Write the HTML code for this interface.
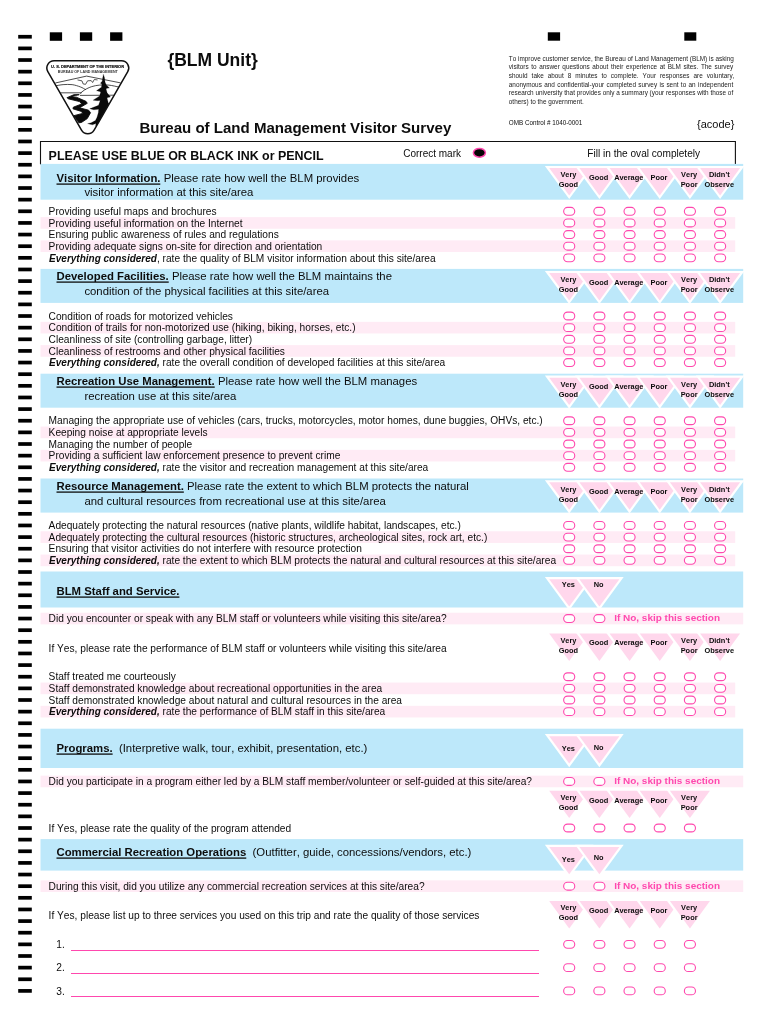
<!DOCTYPE html>
<html lang="en"><head><meta charset="utf-8"><title>Bureau of Land Management Visitor Survey</title>
<style>
html,body{margin:0;padding:0;background:#fff;overflow:hidden}
#page{position:relative;width:770px;height:1024px;overflow:hidden;background:#fff;font-family:"Liberation Sans",Arial,Helvetica,sans-serif}
#page svg.bg{position:absolute;left:0;top:0;will-change:transform}
</style></head><body>
<div id="page">
<svg class="bg" width="770" height="1024" viewBox="0 0 770 1024">
<rect x="18.20" y="34.90" width="13.60" height="3.70" fill="#000"/>
<rect x="18.20" y="46.54" width="13.60" height="3.70" fill="#000"/>
<rect x="18.20" y="58.17" width="13.60" height="3.70" fill="#000"/>
<rect x="18.20" y="69.81" width="13.60" height="3.70" fill="#000"/>
<rect x="18.20" y="81.44" width="13.60" height="3.70" fill="#000"/>
<rect x="18.20" y="93.08" width="13.60" height="3.70" fill="#000"/>
<rect x="18.20" y="104.72" width="13.60" height="3.70" fill="#000"/>
<rect x="18.20" y="116.35" width="13.60" height="3.70" fill="#000"/>
<rect x="18.20" y="127.99" width="13.60" height="3.70" fill="#000"/>
<rect x="18.20" y="139.62" width="13.60" height="3.70" fill="#000"/>
<rect x="18.20" y="151.26" width="13.60" height="3.70" fill="#000"/>
<rect x="18.20" y="162.90" width="13.60" height="3.70" fill="#000"/>
<rect x="18.20" y="174.53" width="13.60" height="3.70" fill="#000"/>
<rect x="18.20" y="186.17" width="13.60" height="3.70" fill="#000"/>
<rect x="18.20" y="197.80" width="13.60" height="3.70" fill="#000"/>
<rect x="18.20" y="209.44" width="13.60" height="3.70" fill="#000"/>
<rect x="18.20" y="221.08" width="13.60" height="3.70" fill="#000"/>
<rect x="18.20" y="232.71" width="13.60" height="3.70" fill="#000"/>
<rect x="18.20" y="244.35" width="13.60" height="3.70" fill="#000"/>
<rect x="18.20" y="255.98" width="13.60" height="3.70" fill="#000"/>
<rect x="18.20" y="267.62" width="13.60" height="3.70" fill="#000"/>
<rect x="18.20" y="279.26" width="13.60" height="3.70" fill="#000"/>
<rect x="18.20" y="290.89" width="13.60" height="3.70" fill="#000"/>
<rect x="18.20" y="302.53" width="13.60" height="3.70" fill="#000"/>
<rect x="18.20" y="314.16" width="13.60" height="3.70" fill="#000"/>
<rect x="18.20" y="325.80" width="13.60" height="3.70" fill="#000"/>
<rect x="18.20" y="337.44" width="13.60" height="3.70" fill="#000"/>
<rect x="18.20" y="349.07" width="13.60" height="3.70" fill="#000"/>
<rect x="18.20" y="360.71" width="13.60" height="3.70" fill="#000"/>
<rect x="18.20" y="372.34" width="13.60" height="3.70" fill="#000"/>
<rect x="18.20" y="383.98" width="13.60" height="3.70" fill="#000"/>
<rect x="18.20" y="395.62" width="13.60" height="3.70" fill="#000"/>
<rect x="18.20" y="407.25" width="13.60" height="3.70" fill="#000"/>
<rect x="18.20" y="418.89" width="13.60" height="3.70" fill="#000"/>
<rect x="18.20" y="430.52" width="13.60" height="3.70" fill="#000"/>
<rect x="18.20" y="442.16" width="13.60" height="3.70" fill="#000"/>
<rect x="18.20" y="453.80" width="13.60" height="3.70" fill="#000"/>
<rect x="18.20" y="465.43" width="13.60" height="3.70" fill="#000"/>
<rect x="18.20" y="477.07" width="13.60" height="3.70" fill="#000"/>
<rect x="18.20" y="488.70" width="13.60" height="3.70" fill="#000"/>
<rect x="18.20" y="500.34" width="13.60" height="3.70" fill="#000"/>
<rect x="18.20" y="511.98" width="13.60" height="3.70" fill="#000"/>
<rect x="18.20" y="523.61" width="13.60" height="3.70" fill="#000"/>
<rect x="18.20" y="535.25" width="13.60" height="3.70" fill="#000"/>
<rect x="18.20" y="546.88" width="13.60" height="3.70" fill="#000"/>
<rect x="18.20" y="558.52" width="13.60" height="3.70" fill="#000"/>
<rect x="18.20" y="570.16" width="13.60" height="3.70" fill="#000"/>
<rect x="18.20" y="581.79" width="13.60" height="3.70" fill="#000"/>
<rect x="18.20" y="593.43" width="13.60" height="3.70" fill="#000"/>
<rect x="18.20" y="605.06" width="13.60" height="3.70" fill="#000"/>
<rect x="18.20" y="616.70" width="13.60" height="3.70" fill="#000"/>
<rect x="18.20" y="628.34" width="13.60" height="3.70" fill="#000"/>
<rect x="18.20" y="639.97" width="13.60" height="3.70" fill="#000"/>
<rect x="18.20" y="651.61" width="13.60" height="3.70" fill="#000"/>
<rect x="18.20" y="663.24" width="13.60" height="3.70" fill="#000"/>
<rect x="18.20" y="674.88" width="13.60" height="3.70" fill="#000"/>
<rect x="18.20" y="686.52" width="13.60" height="3.70" fill="#000"/>
<rect x="18.20" y="698.15" width="13.60" height="3.70" fill="#000"/>
<rect x="18.20" y="709.79" width="13.60" height="3.70" fill="#000"/>
<rect x="18.20" y="721.42" width="13.60" height="3.70" fill="#000"/>
<rect x="18.20" y="733.06" width="13.60" height="3.70" fill="#000"/>
<rect x="18.20" y="744.70" width="13.60" height="3.70" fill="#000"/>
<rect x="18.20" y="756.33" width="13.60" height="3.70" fill="#000"/>
<rect x="18.20" y="767.97" width="13.60" height="3.70" fill="#000"/>
<rect x="18.20" y="779.60" width="13.60" height="3.70" fill="#000"/>
<rect x="18.20" y="791.24" width="13.60" height="3.70" fill="#000"/>
<rect x="18.20" y="802.88" width="13.60" height="3.70" fill="#000"/>
<rect x="18.20" y="814.51" width="13.60" height="3.70" fill="#000"/>
<rect x="18.20" y="826.15" width="13.60" height="3.70" fill="#000"/>
<rect x="18.20" y="837.78" width="13.60" height="3.70" fill="#000"/>
<rect x="18.20" y="849.42" width="13.60" height="3.70" fill="#000"/>
<rect x="18.20" y="861.06" width="13.60" height="3.70" fill="#000"/>
<rect x="18.20" y="872.69" width="13.60" height="3.70" fill="#000"/>
<rect x="18.20" y="884.33" width="13.60" height="3.70" fill="#000"/>
<rect x="18.20" y="895.96" width="13.60" height="3.70" fill="#000"/>
<rect x="18.20" y="907.60" width="13.60" height="3.70" fill="#000"/>
<rect x="18.20" y="919.24" width="13.60" height="3.70" fill="#000"/>
<rect x="18.20" y="930.87" width="13.60" height="3.70" fill="#000"/>
<rect x="18.20" y="942.51" width="13.60" height="3.70" fill="#000"/>
<rect x="18.20" y="954.14" width="13.60" height="3.70" fill="#000"/>
<rect x="18.20" y="965.78" width="13.60" height="3.70" fill="#000"/>
<rect x="18.20" y="977.42" width="13.60" height="3.70" fill="#000"/>
<rect x="18.20" y="989.05" width="13.60" height="3.70" fill="#000"/>
<rect x="49.80" y="32.30" width="12.30" height="8.50" fill="#000"/>
<rect x="79.90" y="32.30" width="12.30" height="8.50" fill="#000"/>
<rect x="110.10" y="32.30" width="12.30" height="8.50" fill="#000"/>
<rect x="547.80" y="32.30" width="12.30" height="8.40" fill="#000"/>
<rect x="684.30" y="32.30" width="12.00" height="8.40" fill="#000"/>
<path d="M40.5,164.5 V141.45 H735.4 V164.5" fill="none" stroke="#111" stroke-width="1.1"/>
<rect x="40.50" y="163.90" width="702.70" height="35.80" fill="#bde8fa"/>
<polygon points="549.20,168.10 589.20,168.10 569.20,195.40" fill="#ffd7ec" stroke="#fff" stroke-width="4.4" stroke-linejoin="miter" stroke-miterlimit="10" paint-order="stroke"/>
<polygon points="579.38,168.10 619.38,168.10 599.38,195.40" fill="#ffd7ec" stroke="#fff" stroke-width="4.4" stroke-linejoin="miter" stroke-miterlimit="10" paint-order="stroke"/>
<polygon points="609.56,168.10 649.56,168.10 629.56,195.40" fill="#ffd7ec" stroke="#fff" stroke-width="4.4" stroke-linejoin="miter" stroke-miterlimit="10" paint-order="stroke"/>
<polygon points="639.74,168.10 679.74,168.10 659.74,195.40" fill="#ffd7ec" stroke="#fff" stroke-width="4.4" stroke-linejoin="miter" stroke-miterlimit="10" paint-order="stroke"/>
<polygon points="669.92,168.10 709.92,168.10 689.92,195.40" fill="#ffd7ec" stroke="#fff" stroke-width="4.4" stroke-linejoin="miter" stroke-miterlimit="10" paint-order="stroke"/>
<polygon points="700.10,168.10 740.10,168.10 720.10,195.40" fill="#ffd7ec" stroke="#fff" stroke-width="4.4" stroke-linejoin="miter" stroke-miterlimit="10" paint-order="stroke"/>
<rect x="563.65" y="207.39" width="11.10" height="7.80" rx="3.90" fill="#fff" stroke="#ff48ae" stroke-width="1.1"/>
<rect x="593.83" y="207.39" width="11.10" height="7.80" rx="3.90" fill="#fff" stroke="#ff48ae" stroke-width="1.1"/>
<rect x="624.01" y="207.39" width="11.10" height="7.80" rx="3.90" fill="#fff" stroke="#ff48ae" stroke-width="1.1"/>
<rect x="654.19" y="207.39" width="11.10" height="7.80" rx="3.90" fill="#fff" stroke="#ff48ae" stroke-width="1.1"/>
<rect x="684.37" y="207.39" width="11.10" height="7.80" rx="3.90" fill="#fff" stroke="#ff48ae" stroke-width="1.1"/>
<rect x="714.55" y="207.39" width="11.10" height="7.80" rx="3.90" fill="#fff" stroke="#ff48ae" stroke-width="1.1"/>
<rect x="40.50" y="217.11" width="694.70" height="11.64" fill="#ffebf5"/>
<rect x="563.65" y="219.03" width="11.10" height="7.80" rx="3.90" fill="#fff" stroke="#ff48ae" stroke-width="1.1"/>
<rect x="593.83" y="219.03" width="11.10" height="7.80" rx="3.90" fill="#fff" stroke="#ff48ae" stroke-width="1.1"/>
<rect x="624.01" y="219.03" width="11.10" height="7.80" rx="3.90" fill="#fff" stroke="#ff48ae" stroke-width="1.1"/>
<rect x="654.19" y="219.03" width="11.10" height="7.80" rx="3.90" fill="#fff" stroke="#ff48ae" stroke-width="1.1"/>
<rect x="684.37" y="219.03" width="11.10" height="7.80" rx="3.90" fill="#fff" stroke="#ff48ae" stroke-width="1.1"/>
<rect x="714.55" y="219.03" width="11.10" height="7.80" rx="3.90" fill="#fff" stroke="#ff48ae" stroke-width="1.1"/>
<rect x="563.65" y="230.66" width="11.10" height="7.80" rx="3.90" fill="#fff" stroke="#ff48ae" stroke-width="1.1"/>
<rect x="593.83" y="230.66" width="11.10" height="7.80" rx="3.90" fill="#fff" stroke="#ff48ae" stroke-width="1.1"/>
<rect x="624.01" y="230.66" width="11.10" height="7.80" rx="3.90" fill="#fff" stroke="#ff48ae" stroke-width="1.1"/>
<rect x="654.19" y="230.66" width="11.10" height="7.80" rx="3.90" fill="#fff" stroke="#ff48ae" stroke-width="1.1"/>
<rect x="684.37" y="230.66" width="11.10" height="7.80" rx="3.90" fill="#fff" stroke="#ff48ae" stroke-width="1.1"/>
<rect x="714.55" y="230.66" width="11.10" height="7.80" rx="3.90" fill="#fff" stroke="#ff48ae" stroke-width="1.1"/>
<rect x="40.50" y="240.38" width="694.70" height="11.64" fill="#ffebf5"/>
<rect x="563.65" y="242.30" width="11.10" height="7.80" rx="3.90" fill="#fff" stroke="#ff48ae" stroke-width="1.1"/>
<rect x="593.83" y="242.30" width="11.10" height="7.80" rx="3.90" fill="#fff" stroke="#ff48ae" stroke-width="1.1"/>
<rect x="624.01" y="242.30" width="11.10" height="7.80" rx="3.90" fill="#fff" stroke="#ff48ae" stroke-width="1.1"/>
<rect x="654.19" y="242.30" width="11.10" height="7.80" rx="3.90" fill="#fff" stroke="#ff48ae" stroke-width="1.1"/>
<rect x="684.37" y="242.30" width="11.10" height="7.80" rx="3.90" fill="#fff" stroke="#ff48ae" stroke-width="1.1"/>
<rect x="714.55" y="242.30" width="11.10" height="7.80" rx="3.90" fill="#fff" stroke="#ff48ae" stroke-width="1.1"/>
<rect x="563.65" y="253.93" width="11.10" height="7.80" rx="3.90" fill="#fff" stroke="#ff48ae" stroke-width="1.1"/>
<rect x="593.83" y="253.93" width="11.10" height="7.80" rx="3.90" fill="#fff" stroke="#ff48ae" stroke-width="1.1"/>
<rect x="624.01" y="253.93" width="11.10" height="7.80" rx="3.90" fill="#fff" stroke="#ff48ae" stroke-width="1.1"/>
<rect x="654.19" y="253.93" width="11.10" height="7.80" rx="3.90" fill="#fff" stroke="#ff48ae" stroke-width="1.1"/>
<rect x="684.37" y="253.93" width="11.10" height="7.80" rx="3.90" fill="#fff" stroke="#ff48ae" stroke-width="1.1"/>
<rect x="714.55" y="253.93" width="11.10" height="7.80" rx="3.90" fill="#fff" stroke="#ff48ae" stroke-width="1.1"/>
<rect x="40.50" y="268.90" width="702.70" height="34.00" fill="#bde8fa"/>
<polygon points="549.20,273.10 589.20,273.10 569.20,300.40" fill="#ffd7ec" stroke="#fff" stroke-width="4.4" stroke-linejoin="miter" stroke-miterlimit="10" paint-order="stroke"/>
<polygon points="579.38,273.10 619.38,273.10 599.38,300.40" fill="#ffd7ec" stroke="#fff" stroke-width="4.4" stroke-linejoin="miter" stroke-miterlimit="10" paint-order="stroke"/>
<polygon points="609.56,273.10 649.56,273.10 629.56,300.40" fill="#ffd7ec" stroke="#fff" stroke-width="4.4" stroke-linejoin="miter" stroke-miterlimit="10" paint-order="stroke"/>
<polygon points="639.74,273.10 679.74,273.10 659.74,300.40" fill="#ffd7ec" stroke="#fff" stroke-width="4.4" stroke-linejoin="miter" stroke-miterlimit="10" paint-order="stroke"/>
<polygon points="669.92,273.10 709.92,273.10 689.92,300.40" fill="#ffd7ec" stroke="#fff" stroke-width="4.4" stroke-linejoin="miter" stroke-miterlimit="10" paint-order="stroke"/>
<polygon points="700.10,273.10 740.10,273.10 720.10,300.40" fill="#ffd7ec" stroke="#fff" stroke-width="4.4" stroke-linejoin="miter" stroke-miterlimit="10" paint-order="stroke"/>
<rect x="563.65" y="312.11" width="11.10" height="7.80" rx="3.90" fill="#fff" stroke="#ff48ae" stroke-width="1.1"/>
<rect x="593.83" y="312.11" width="11.10" height="7.80" rx="3.90" fill="#fff" stroke="#ff48ae" stroke-width="1.1"/>
<rect x="624.01" y="312.11" width="11.10" height="7.80" rx="3.90" fill="#fff" stroke="#ff48ae" stroke-width="1.1"/>
<rect x="654.19" y="312.11" width="11.10" height="7.80" rx="3.90" fill="#fff" stroke="#ff48ae" stroke-width="1.1"/>
<rect x="684.37" y="312.11" width="11.10" height="7.80" rx="3.90" fill="#fff" stroke="#ff48ae" stroke-width="1.1"/>
<rect x="714.55" y="312.11" width="11.10" height="7.80" rx="3.90" fill="#fff" stroke="#ff48ae" stroke-width="1.1"/>
<rect x="40.50" y="321.83" width="694.70" height="11.64" fill="#ffebf5"/>
<rect x="563.65" y="323.75" width="11.10" height="7.80" rx="3.90" fill="#fff" stroke="#ff48ae" stroke-width="1.1"/>
<rect x="593.83" y="323.75" width="11.10" height="7.80" rx="3.90" fill="#fff" stroke="#ff48ae" stroke-width="1.1"/>
<rect x="624.01" y="323.75" width="11.10" height="7.80" rx="3.90" fill="#fff" stroke="#ff48ae" stroke-width="1.1"/>
<rect x="654.19" y="323.75" width="11.10" height="7.80" rx="3.90" fill="#fff" stroke="#ff48ae" stroke-width="1.1"/>
<rect x="684.37" y="323.75" width="11.10" height="7.80" rx="3.90" fill="#fff" stroke="#ff48ae" stroke-width="1.1"/>
<rect x="714.55" y="323.75" width="11.10" height="7.80" rx="3.90" fill="#fff" stroke="#ff48ae" stroke-width="1.1"/>
<rect x="563.65" y="335.39" width="11.10" height="7.80" rx="3.90" fill="#fff" stroke="#ff48ae" stroke-width="1.1"/>
<rect x="593.83" y="335.39" width="11.10" height="7.80" rx="3.90" fill="#fff" stroke="#ff48ae" stroke-width="1.1"/>
<rect x="624.01" y="335.39" width="11.10" height="7.80" rx="3.90" fill="#fff" stroke="#ff48ae" stroke-width="1.1"/>
<rect x="654.19" y="335.39" width="11.10" height="7.80" rx="3.90" fill="#fff" stroke="#ff48ae" stroke-width="1.1"/>
<rect x="684.37" y="335.39" width="11.10" height="7.80" rx="3.90" fill="#fff" stroke="#ff48ae" stroke-width="1.1"/>
<rect x="714.55" y="335.39" width="11.10" height="7.80" rx="3.90" fill="#fff" stroke="#ff48ae" stroke-width="1.1"/>
<rect x="40.50" y="345.10" width="694.70" height="11.64" fill="#ffebf5"/>
<rect x="563.65" y="347.02" width="11.10" height="7.80" rx="3.90" fill="#fff" stroke="#ff48ae" stroke-width="1.1"/>
<rect x="593.83" y="347.02" width="11.10" height="7.80" rx="3.90" fill="#fff" stroke="#ff48ae" stroke-width="1.1"/>
<rect x="624.01" y="347.02" width="11.10" height="7.80" rx="3.90" fill="#fff" stroke="#ff48ae" stroke-width="1.1"/>
<rect x="654.19" y="347.02" width="11.10" height="7.80" rx="3.90" fill="#fff" stroke="#ff48ae" stroke-width="1.1"/>
<rect x="684.37" y="347.02" width="11.10" height="7.80" rx="3.90" fill="#fff" stroke="#ff48ae" stroke-width="1.1"/>
<rect x="714.55" y="347.02" width="11.10" height="7.80" rx="3.90" fill="#fff" stroke="#ff48ae" stroke-width="1.1"/>
<rect x="563.65" y="358.66" width="11.10" height="7.80" rx="3.90" fill="#fff" stroke="#ff48ae" stroke-width="1.1"/>
<rect x="593.83" y="358.66" width="11.10" height="7.80" rx="3.90" fill="#fff" stroke="#ff48ae" stroke-width="1.1"/>
<rect x="624.01" y="358.66" width="11.10" height="7.80" rx="3.90" fill="#fff" stroke="#ff48ae" stroke-width="1.1"/>
<rect x="654.19" y="358.66" width="11.10" height="7.80" rx="3.90" fill="#fff" stroke="#ff48ae" stroke-width="1.1"/>
<rect x="684.37" y="358.66" width="11.10" height="7.80" rx="3.90" fill="#fff" stroke="#ff48ae" stroke-width="1.1"/>
<rect x="714.55" y="358.66" width="11.10" height="7.80" rx="3.90" fill="#fff" stroke="#ff48ae" stroke-width="1.1"/>
<rect x="40.50" y="373.70" width="702.70" height="34.00" fill="#bde8fa"/>
<polygon points="549.20,377.65 589.20,377.65 569.20,404.95" fill="#ffd7ec" stroke="#fff" stroke-width="4.4" stroke-linejoin="miter" stroke-miterlimit="10" paint-order="stroke"/>
<polygon points="579.38,377.65 619.38,377.65 599.38,404.95" fill="#ffd7ec" stroke="#fff" stroke-width="4.4" stroke-linejoin="miter" stroke-miterlimit="10" paint-order="stroke"/>
<polygon points="609.56,377.65 649.56,377.65 629.56,404.95" fill="#ffd7ec" stroke="#fff" stroke-width="4.4" stroke-linejoin="miter" stroke-miterlimit="10" paint-order="stroke"/>
<polygon points="639.74,377.65 679.74,377.65 659.74,404.95" fill="#ffd7ec" stroke="#fff" stroke-width="4.4" stroke-linejoin="miter" stroke-miterlimit="10" paint-order="stroke"/>
<polygon points="669.92,377.65 709.92,377.65 689.92,404.95" fill="#ffd7ec" stroke="#fff" stroke-width="4.4" stroke-linejoin="miter" stroke-miterlimit="10" paint-order="stroke"/>
<polygon points="700.10,377.65 740.10,377.65 720.10,404.95" fill="#ffd7ec" stroke="#fff" stroke-width="4.4" stroke-linejoin="miter" stroke-miterlimit="10" paint-order="stroke"/>
<rect x="563.65" y="416.84" width="11.10" height="7.80" rx="3.90" fill="#fff" stroke="#ff48ae" stroke-width="1.1"/>
<rect x="593.83" y="416.84" width="11.10" height="7.80" rx="3.90" fill="#fff" stroke="#ff48ae" stroke-width="1.1"/>
<rect x="624.01" y="416.84" width="11.10" height="7.80" rx="3.90" fill="#fff" stroke="#ff48ae" stroke-width="1.1"/>
<rect x="654.19" y="416.84" width="11.10" height="7.80" rx="3.90" fill="#fff" stroke="#ff48ae" stroke-width="1.1"/>
<rect x="684.37" y="416.84" width="11.10" height="7.80" rx="3.90" fill="#fff" stroke="#ff48ae" stroke-width="1.1"/>
<rect x="714.55" y="416.84" width="11.10" height="7.80" rx="3.90" fill="#fff" stroke="#ff48ae" stroke-width="1.1"/>
<rect x="40.50" y="426.56" width="694.70" height="11.64" fill="#ffebf5"/>
<rect x="563.65" y="428.47" width="11.10" height="7.80" rx="3.90" fill="#fff" stroke="#ff48ae" stroke-width="1.1"/>
<rect x="593.83" y="428.47" width="11.10" height="7.80" rx="3.90" fill="#fff" stroke="#ff48ae" stroke-width="1.1"/>
<rect x="624.01" y="428.47" width="11.10" height="7.80" rx="3.90" fill="#fff" stroke="#ff48ae" stroke-width="1.1"/>
<rect x="654.19" y="428.47" width="11.10" height="7.80" rx="3.90" fill="#fff" stroke="#ff48ae" stroke-width="1.1"/>
<rect x="684.37" y="428.47" width="11.10" height="7.80" rx="3.90" fill="#fff" stroke="#ff48ae" stroke-width="1.1"/>
<rect x="714.55" y="428.47" width="11.10" height="7.80" rx="3.90" fill="#fff" stroke="#ff48ae" stroke-width="1.1"/>
<rect x="563.65" y="440.11" width="11.10" height="7.80" rx="3.90" fill="#fff" stroke="#ff48ae" stroke-width="1.1"/>
<rect x="593.83" y="440.11" width="11.10" height="7.80" rx="3.90" fill="#fff" stroke="#ff48ae" stroke-width="1.1"/>
<rect x="624.01" y="440.11" width="11.10" height="7.80" rx="3.90" fill="#fff" stroke="#ff48ae" stroke-width="1.1"/>
<rect x="654.19" y="440.11" width="11.10" height="7.80" rx="3.90" fill="#fff" stroke="#ff48ae" stroke-width="1.1"/>
<rect x="684.37" y="440.11" width="11.10" height="7.80" rx="3.90" fill="#fff" stroke="#ff48ae" stroke-width="1.1"/>
<rect x="714.55" y="440.11" width="11.10" height="7.80" rx="3.90" fill="#fff" stroke="#ff48ae" stroke-width="1.1"/>
<rect x="40.50" y="449.83" width="694.70" height="11.64" fill="#ffebf5"/>
<rect x="563.65" y="451.75" width="11.10" height="7.80" rx="3.90" fill="#fff" stroke="#ff48ae" stroke-width="1.1"/>
<rect x="593.83" y="451.75" width="11.10" height="7.80" rx="3.90" fill="#fff" stroke="#ff48ae" stroke-width="1.1"/>
<rect x="624.01" y="451.75" width="11.10" height="7.80" rx="3.90" fill="#fff" stroke="#ff48ae" stroke-width="1.1"/>
<rect x="654.19" y="451.75" width="11.10" height="7.80" rx="3.90" fill="#fff" stroke="#ff48ae" stroke-width="1.1"/>
<rect x="684.37" y="451.75" width="11.10" height="7.80" rx="3.90" fill="#fff" stroke="#ff48ae" stroke-width="1.1"/>
<rect x="714.55" y="451.75" width="11.10" height="7.80" rx="3.90" fill="#fff" stroke="#ff48ae" stroke-width="1.1"/>
<rect x="563.65" y="463.38" width="11.10" height="7.80" rx="3.90" fill="#fff" stroke="#ff48ae" stroke-width="1.1"/>
<rect x="593.83" y="463.38" width="11.10" height="7.80" rx="3.90" fill="#fff" stroke="#ff48ae" stroke-width="1.1"/>
<rect x="624.01" y="463.38" width="11.10" height="7.80" rx="3.90" fill="#fff" stroke="#ff48ae" stroke-width="1.1"/>
<rect x="654.19" y="463.38" width="11.10" height="7.80" rx="3.90" fill="#fff" stroke="#ff48ae" stroke-width="1.1"/>
<rect x="684.37" y="463.38" width="11.10" height="7.80" rx="3.90" fill="#fff" stroke="#ff48ae" stroke-width="1.1"/>
<rect x="714.55" y="463.38" width="11.10" height="7.80" rx="3.90" fill="#fff" stroke="#ff48ae" stroke-width="1.1"/>
<rect x="40.50" y="478.50" width="702.70" height="34.10" fill="#bde8fa"/>
<polygon points="549.20,482.37 589.20,482.37 569.20,509.67" fill="#ffd7ec" stroke="#fff" stroke-width="4.4" stroke-linejoin="miter" stroke-miterlimit="10" paint-order="stroke"/>
<polygon points="579.38,482.37 619.38,482.37 599.38,509.67" fill="#ffd7ec" stroke="#fff" stroke-width="4.4" stroke-linejoin="miter" stroke-miterlimit="10" paint-order="stroke"/>
<polygon points="609.56,482.37 649.56,482.37 629.56,509.67" fill="#ffd7ec" stroke="#fff" stroke-width="4.4" stroke-linejoin="miter" stroke-miterlimit="10" paint-order="stroke"/>
<polygon points="639.74,482.37 679.74,482.37 659.74,509.67" fill="#ffd7ec" stroke="#fff" stroke-width="4.4" stroke-linejoin="miter" stroke-miterlimit="10" paint-order="stroke"/>
<polygon points="669.92,482.37 709.92,482.37 689.92,509.67" fill="#ffd7ec" stroke="#fff" stroke-width="4.4" stroke-linejoin="miter" stroke-miterlimit="10" paint-order="stroke"/>
<polygon points="700.10,482.37 740.10,482.37 720.10,509.67" fill="#ffd7ec" stroke="#fff" stroke-width="4.4" stroke-linejoin="miter" stroke-miterlimit="10" paint-order="stroke"/>
<rect x="563.65" y="521.56" width="11.10" height="7.80" rx="3.90" fill="#fff" stroke="#ff48ae" stroke-width="1.1"/>
<rect x="593.83" y="521.56" width="11.10" height="7.80" rx="3.90" fill="#fff" stroke="#ff48ae" stroke-width="1.1"/>
<rect x="624.01" y="521.56" width="11.10" height="7.80" rx="3.90" fill="#fff" stroke="#ff48ae" stroke-width="1.1"/>
<rect x="654.19" y="521.56" width="11.10" height="7.80" rx="3.90" fill="#fff" stroke="#ff48ae" stroke-width="1.1"/>
<rect x="684.37" y="521.56" width="11.10" height="7.80" rx="3.90" fill="#fff" stroke="#ff48ae" stroke-width="1.1"/>
<rect x="714.55" y="521.56" width="11.10" height="7.80" rx="3.90" fill="#fff" stroke="#ff48ae" stroke-width="1.1"/>
<rect x="40.50" y="531.28" width="694.70" height="11.64" fill="#ffebf5"/>
<rect x="563.65" y="533.20" width="11.10" height="7.80" rx="3.90" fill="#fff" stroke="#ff48ae" stroke-width="1.1"/>
<rect x="593.83" y="533.20" width="11.10" height="7.80" rx="3.90" fill="#fff" stroke="#ff48ae" stroke-width="1.1"/>
<rect x="624.01" y="533.20" width="11.10" height="7.80" rx="3.90" fill="#fff" stroke="#ff48ae" stroke-width="1.1"/>
<rect x="654.19" y="533.20" width="11.10" height="7.80" rx="3.90" fill="#fff" stroke="#ff48ae" stroke-width="1.1"/>
<rect x="684.37" y="533.20" width="11.10" height="7.80" rx="3.90" fill="#fff" stroke="#ff48ae" stroke-width="1.1"/>
<rect x="714.55" y="533.20" width="11.10" height="7.80" rx="3.90" fill="#fff" stroke="#ff48ae" stroke-width="1.1"/>
<rect x="563.65" y="544.83" width="11.10" height="7.80" rx="3.90" fill="#fff" stroke="#ff48ae" stroke-width="1.1"/>
<rect x="593.83" y="544.83" width="11.10" height="7.80" rx="3.90" fill="#fff" stroke="#ff48ae" stroke-width="1.1"/>
<rect x="624.01" y="544.83" width="11.10" height="7.80" rx="3.90" fill="#fff" stroke="#ff48ae" stroke-width="1.1"/>
<rect x="654.19" y="544.83" width="11.10" height="7.80" rx="3.90" fill="#fff" stroke="#ff48ae" stroke-width="1.1"/>
<rect x="684.37" y="544.83" width="11.10" height="7.80" rx="3.90" fill="#fff" stroke="#ff48ae" stroke-width="1.1"/>
<rect x="714.55" y="544.83" width="11.10" height="7.80" rx="3.90" fill="#fff" stroke="#ff48ae" stroke-width="1.1"/>
<rect x="40.50" y="554.55" width="694.70" height="11.64" fill="#ffebf5"/>
<rect x="563.65" y="556.47" width="11.10" height="7.80" rx="3.90" fill="#fff" stroke="#ff48ae" stroke-width="1.1"/>
<rect x="593.83" y="556.47" width="11.10" height="7.80" rx="3.90" fill="#fff" stroke="#ff48ae" stroke-width="1.1"/>
<rect x="624.01" y="556.47" width="11.10" height="7.80" rx="3.90" fill="#fff" stroke="#ff48ae" stroke-width="1.1"/>
<rect x="654.19" y="556.47" width="11.10" height="7.80" rx="3.90" fill="#fff" stroke="#ff48ae" stroke-width="1.1"/>
<rect x="684.37" y="556.47" width="11.10" height="7.80" rx="3.90" fill="#fff" stroke="#ff48ae" stroke-width="1.1"/>
<rect x="714.55" y="556.47" width="11.10" height="7.80" rx="3.90" fill="#fff" stroke="#ff48ae" stroke-width="1.1"/>
<rect x="40.50" y="571.50" width="702.70" height="36.00" fill="#bde8fa"/>
<polygon points="549.20,579.30 589.20,579.30 569.20,606.60" fill="#ffd7ec" stroke="#fff" stroke-width="4.4" stroke-linejoin="miter" stroke-miterlimit="10" paint-order="stroke"/>
<polygon points="579.38,579.30 619.38,579.30 599.38,606.60" fill="#ffd7ec" stroke="#fff" stroke-width="4.4" stroke-linejoin="miter" stroke-miterlimit="10" paint-order="stroke"/>
<rect x="40.50" y="612.73" width="702.70" height="11.64" fill="#ffebf5"/>
<rect x="563.65" y="614.65" width="11.10" height="7.80" rx="3.90" fill="#fff" stroke="#ff48ae" stroke-width="1.1"/>
<rect x="593.83" y="614.65" width="11.10" height="7.80" rx="3.90" fill="#fff" stroke="#ff48ae" stroke-width="1.1"/>
<polygon points="549.20,633.60 589.20,633.60 569.20,660.90" fill="#ffd7ec" stroke="#fff" stroke-width="4.4" stroke-linejoin="miter" stroke-miterlimit="10" paint-order="stroke"/>
<polygon points="579.38,633.60 619.38,633.60 599.38,660.90" fill="#ffd7ec" stroke="#fff" stroke-width="4.4" stroke-linejoin="miter" stroke-miterlimit="10" paint-order="stroke"/>
<polygon points="609.56,633.60 649.56,633.60 629.56,660.90" fill="#ffd7ec" stroke="#fff" stroke-width="4.4" stroke-linejoin="miter" stroke-miterlimit="10" paint-order="stroke"/>
<polygon points="639.74,633.60 679.74,633.60 659.74,660.90" fill="#ffd7ec" stroke="#fff" stroke-width="4.4" stroke-linejoin="miter" stroke-miterlimit="10" paint-order="stroke"/>
<polygon points="669.92,633.60 709.92,633.60 689.92,660.90" fill="#ffd7ec" stroke="#fff" stroke-width="4.4" stroke-linejoin="miter" stroke-miterlimit="10" paint-order="stroke"/>
<polygon points="700.10,633.60 740.10,633.60 720.10,660.90" fill="#ffd7ec" stroke="#fff" stroke-width="4.4" stroke-linejoin="miter" stroke-miterlimit="10" paint-order="stroke"/>
<rect x="563.65" y="672.83" width="11.10" height="7.80" rx="3.90" fill="#fff" stroke="#ff48ae" stroke-width="1.1"/>
<rect x="593.83" y="672.83" width="11.10" height="7.80" rx="3.90" fill="#fff" stroke="#ff48ae" stroke-width="1.1"/>
<rect x="624.01" y="672.83" width="11.10" height="7.80" rx="3.90" fill="#fff" stroke="#ff48ae" stroke-width="1.1"/>
<rect x="654.19" y="672.83" width="11.10" height="7.80" rx="3.90" fill="#fff" stroke="#ff48ae" stroke-width="1.1"/>
<rect x="684.37" y="672.83" width="11.10" height="7.80" rx="3.90" fill="#fff" stroke="#ff48ae" stroke-width="1.1"/>
<rect x="714.55" y="672.83" width="11.10" height="7.80" rx="3.90" fill="#fff" stroke="#ff48ae" stroke-width="1.1"/>
<rect x="40.50" y="682.55" width="694.70" height="11.64" fill="#ffebf5"/>
<rect x="563.65" y="684.47" width="11.10" height="7.80" rx="3.90" fill="#fff" stroke="#ff48ae" stroke-width="1.1"/>
<rect x="593.83" y="684.47" width="11.10" height="7.80" rx="3.90" fill="#fff" stroke="#ff48ae" stroke-width="1.1"/>
<rect x="624.01" y="684.47" width="11.10" height="7.80" rx="3.90" fill="#fff" stroke="#ff48ae" stroke-width="1.1"/>
<rect x="654.19" y="684.47" width="11.10" height="7.80" rx="3.90" fill="#fff" stroke="#ff48ae" stroke-width="1.1"/>
<rect x="684.37" y="684.47" width="11.10" height="7.80" rx="3.90" fill="#fff" stroke="#ff48ae" stroke-width="1.1"/>
<rect x="714.55" y="684.47" width="11.10" height="7.80" rx="3.90" fill="#fff" stroke="#ff48ae" stroke-width="1.1"/>
<rect x="563.65" y="696.10" width="11.10" height="7.80" rx="3.90" fill="#fff" stroke="#ff48ae" stroke-width="1.1"/>
<rect x="593.83" y="696.10" width="11.10" height="7.80" rx="3.90" fill="#fff" stroke="#ff48ae" stroke-width="1.1"/>
<rect x="624.01" y="696.10" width="11.10" height="7.80" rx="3.90" fill="#fff" stroke="#ff48ae" stroke-width="1.1"/>
<rect x="654.19" y="696.10" width="11.10" height="7.80" rx="3.90" fill="#fff" stroke="#ff48ae" stroke-width="1.1"/>
<rect x="684.37" y="696.10" width="11.10" height="7.80" rx="3.90" fill="#fff" stroke="#ff48ae" stroke-width="1.1"/>
<rect x="714.55" y="696.10" width="11.10" height="7.80" rx="3.90" fill="#fff" stroke="#ff48ae" stroke-width="1.1"/>
<rect x="40.50" y="705.82" width="694.70" height="11.64" fill="#ffebf5"/>
<rect x="563.65" y="707.74" width="11.10" height="7.80" rx="3.90" fill="#fff" stroke="#ff48ae" stroke-width="1.1"/>
<rect x="593.83" y="707.74" width="11.10" height="7.80" rx="3.90" fill="#fff" stroke="#ff48ae" stroke-width="1.1"/>
<rect x="624.01" y="707.74" width="11.10" height="7.80" rx="3.90" fill="#fff" stroke="#ff48ae" stroke-width="1.1"/>
<rect x="654.19" y="707.74" width="11.10" height="7.80" rx="3.90" fill="#fff" stroke="#ff48ae" stroke-width="1.1"/>
<rect x="684.37" y="707.74" width="11.10" height="7.80" rx="3.90" fill="#fff" stroke="#ff48ae" stroke-width="1.1"/>
<rect x="714.55" y="707.74" width="11.10" height="7.80" rx="3.90" fill="#fff" stroke="#ff48ae" stroke-width="1.1"/>
<rect x="40.50" y="728.70" width="702.70" height="39.30" fill="#bde8fa"/>
<polygon points="549.20,736.30 589.20,736.30 569.20,763.60" fill="#ffd7ec" stroke="#fff" stroke-width="4.4" stroke-linejoin="miter" stroke-miterlimit="10" paint-order="stroke"/>
<polygon points="579.38,736.30 619.38,736.30 599.38,763.60" fill="#ffd7ec" stroke="#fff" stroke-width="4.4" stroke-linejoin="miter" stroke-miterlimit="10" paint-order="stroke"/>
<rect x="40.50" y="775.64" width="702.70" height="11.64" fill="#ffebf5"/>
<rect x="563.65" y="777.55" width="11.10" height="7.80" rx="3.90" fill="#fff" stroke="#ff48ae" stroke-width="1.1"/>
<rect x="593.83" y="777.55" width="11.10" height="7.80" rx="3.90" fill="#fff" stroke="#ff48ae" stroke-width="1.1"/>
<polygon points="549.20,790.80 589.20,790.80 569.20,818.10" fill="#ffd7ec" stroke="#fff" stroke-width="4.4" stroke-linejoin="miter" stroke-miterlimit="10" paint-order="stroke"/>
<polygon points="579.38,790.80 619.38,790.80 599.38,818.10" fill="#ffd7ec" stroke="#fff" stroke-width="4.4" stroke-linejoin="miter" stroke-miterlimit="10" paint-order="stroke"/>
<polygon points="609.56,790.80 649.56,790.80 629.56,818.10" fill="#ffd7ec" stroke="#fff" stroke-width="4.4" stroke-linejoin="miter" stroke-miterlimit="10" paint-order="stroke"/>
<polygon points="639.74,790.80 679.74,790.80 659.74,818.10" fill="#ffd7ec" stroke="#fff" stroke-width="4.4" stroke-linejoin="miter" stroke-miterlimit="10" paint-order="stroke"/>
<polygon points="669.92,790.80 709.92,790.80 689.92,818.10" fill="#ffd7ec" stroke="#fff" stroke-width="4.4" stroke-linejoin="miter" stroke-miterlimit="10" paint-order="stroke"/>
<rect x="563.65" y="824.10" width="11.10" height="7.80" rx="3.90" fill="#fff" stroke="#ff48ae" stroke-width="1.1"/>
<rect x="593.83" y="824.10" width="11.10" height="7.80" rx="3.90" fill="#fff" stroke="#ff48ae" stroke-width="1.1"/>
<rect x="624.01" y="824.10" width="11.10" height="7.80" rx="3.90" fill="#fff" stroke="#ff48ae" stroke-width="1.1"/>
<rect x="654.19" y="824.10" width="11.10" height="7.80" rx="3.90" fill="#fff" stroke="#ff48ae" stroke-width="1.1"/>
<rect x="684.37" y="824.10" width="11.10" height="7.80" rx="3.90" fill="#fff" stroke="#ff48ae" stroke-width="1.1"/>
<rect x="40.50" y="839.10" width="702.70" height="31.50" fill="#bde8fa"/>
<polygon points="549.20,847.00 589.20,847.00 569.20,874.30" fill="#ffd7ec" stroke="#fff" stroke-width="4.4" stroke-linejoin="miter" stroke-miterlimit="10" paint-order="stroke"/>
<polygon points="579.38,847.00 619.38,847.00 599.38,874.30" fill="#ffd7ec" stroke="#fff" stroke-width="4.4" stroke-linejoin="miter" stroke-miterlimit="10" paint-order="stroke"/>
<rect x="40.50" y="880.36" width="702.70" height="11.64" fill="#ffebf5"/>
<rect x="563.65" y="882.28" width="11.10" height="7.80" rx="3.90" fill="#fff" stroke="#ff48ae" stroke-width="1.1"/>
<rect x="593.83" y="882.28" width="11.10" height="7.80" rx="3.90" fill="#fff" stroke="#ff48ae" stroke-width="1.1"/>
<polygon points="549.20,901.10 589.20,901.10 569.20,928.40" fill="#ffd7ec" stroke="#fff" stroke-width="4.4" stroke-linejoin="miter" stroke-miterlimit="10" paint-order="stroke"/>
<polygon points="579.38,901.10 619.38,901.10 599.38,928.40" fill="#ffd7ec" stroke="#fff" stroke-width="4.4" stroke-linejoin="miter" stroke-miterlimit="10" paint-order="stroke"/>
<polygon points="609.56,901.10 649.56,901.10 629.56,928.40" fill="#ffd7ec" stroke="#fff" stroke-width="4.4" stroke-linejoin="miter" stroke-miterlimit="10" paint-order="stroke"/>
<polygon points="639.74,901.10 679.74,901.10 659.74,928.40" fill="#ffd7ec" stroke="#fff" stroke-width="4.4" stroke-linejoin="miter" stroke-miterlimit="10" paint-order="stroke"/>
<polygon points="669.92,901.10 709.92,901.10 689.92,928.40" fill="#ffd7ec" stroke="#fff" stroke-width="4.4" stroke-linejoin="miter" stroke-miterlimit="10" paint-order="stroke"/>
<rect x="71.00" y="950.00" width="468.00" height="1.00" fill="#ff48ae"/>
<rect x="563.65" y="940.46" width="11.10" height="7.80" rx="3.90" fill="#fff" stroke="#ff48ae" stroke-width="1.1"/>
<rect x="593.83" y="940.46" width="11.10" height="7.80" rx="3.90" fill="#fff" stroke="#ff48ae" stroke-width="1.1"/>
<rect x="624.01" y="940.46" width="11.10" height="7.80" rx="3.90" fill="#fff" stroke="#ff48ae" stroke-width="1.1"/>
<rect x="654.19" y="940.46" width="11.10" height="7.80" rx="3.90" fill="#fff" stroke="#ff48ae" stroke-width="1.1"/>
<rect x="684.37" y="940.46" width="11.10" height="7.80" rx="3.90" fill="#fff" stroke="#ff48ae" stroke-width="1.1"/>
<rect x="71.00" y="973.00" width="468.00" height="1.00" fill="#ff48ae"/>
<rect x="563.65" y="963.73" width="11.10" height="7.80" rx="3.90" fill="#fff" stroke="#ff48ae" stroke-width="1.1"/>
<rect x="593.83" y="963.73" width="11.10" height="7.80" rx="3.90" fill="#fff" stroke="#ff48ae" stroke-width="1.1"/>
<rect x="624.01" y="963.73" width="11.10" height="7.80" rx="3.90" fill="#fff" stroke="#ff48ae" stroke-width="1.1"/>
<rect x="654.19" y="963.73" width="11.10" height="7.80" rx="3.90" fill="#fff" stroke="#ff48ae" stroke-width="1.1"/>
<rect x="684.37" y="963.73" width="11.10" height="7.80" rx="3.90" fill="#fff" stroke="#ff48ae" stroke-width="1.1"/>
<rect x="71.00" y="996.00" width="468.00" height="1.00" fill="#ff48ae"/>
<rect x="563.65" y="987.00" width="11.10" height="7.80" rx="3.90" fill="#fff" stroke="#ff48ae" stroke-width="1.1"/>
<rect x="593.83" y="987.00" width="11.10" height="7.80" rx="3.90" fill="#fff" stroke="#ff48ae" stroke-width="1.1"/>
<rect x="624.01" y="987.00" width="11.10" height="7.80" rx="3.90" fill="#fff" stroke="#ff48ae" stroke-width="1.1"/>
<rect x="654.19" y="987.00" width="11.10" height="7.80" rx="3.90" fill="#fff" stroke="#ff48ae" stroke-width="1.1"/>
<rect x="684.37" y="987.00" width="11.10" height="7.80" rx="3.90" fill="#fff" stroke="#ff48ae" stroke-width="1.1"/>
<ellipse cx="479.4" cy="152.8" rx="6.0" ry="4.4" fill="#050505" stroke="#ff48ae" stroke-width="1.5"/>
<g id="logo">
<clipPath id="lc"><path d="M47.84,71.51 A7.25,7.25 0 0 1 54.12,60.65 L121.48,60.65 A7.25,7.25 0 0 1 127.76,71.51 L94.09,130.15 A7.25,7.25 0 0 1 81.51,130.15 Z"/></clipPath>
<g clip-path="url(#lc)" fill="none" stroke="#111" stroke-width="0.75" stroke-linecap="round" stroke-linejoin="round">
<polyline points="55.70,82.90 86.60,76.10 120.20,82.80"/>
<polyline points="77.90,80.00 82.00,80.90 83.20,84.00 85.60,84.30 87.60,80.80 91.20,80.60 92.60,82.50 94.30,79.50 97.20,79.90" stroke-width="0.7"/>
<path d="M55.82,85.82 C57.03,85.62 60.36,84.83 63.09,84.64 C65.82,84.44 69.30,84.26 72.18,84.64 C75.06,85.02 78.17,86.11 80.36,86.91 C82.56,87.71 84.53,89.03 85.36,89.45"/>
<path d="M80.40,93.30 C81.10,92.73 82.70,91.02 84.60,89.90 C86.50,88.78 89.30,87.40 91.80,86.60 C94.30,85.80 96.75,85.35 99.60,85.10 C102.45,84.85 105.75,84.78 108.90,85.10 C112.05,85.42 116.90,86.68 118.50,87.00"/>
<polyline points="60.82,92.82 81.27,92.82"/>
<polyline points="80.40,95.40 113.60,95.20"/>
<polygon points="78.83,94.68 73.96,94.68 67.01,97.66 68.12,98.77 79.48,101.56 81.75,103.96 73.31,107.21 72.99,108.83 81.43,111.43 82.73,113.38 73.96,115.65 78.83,122.79 81.43,122.47 87.27,118.57 90.52,112.73 88.57,110.13 79.48,107.86 87.27,103.31 85.97,101.36 76.23,97.14 71.36,96.82 74.94,95.52" fill="#0a0a0a" stroke="#0a0a0a" stroke-width="0.9"/>
<polygon points="103.48,74.40 104.52,77.79 105.04,81.95 106.34,85.06 109.45,87.92 106.86,88.29 106.08,88.96 107.12,92.86 110.49,97.01 107.64,97.53 107.12,98.31 108.42,103.25 110.50,103.30 97.20,127.00 95.58,125.58 96.04,123.44 92.47,124.87 87.60,123.64 91.17,122.79 95.39,120.52 97.01,117.27 98.31,112.73 98.64,109.35 93.77,109.81 89.68,108.70 98.55,105.32 100.21,100.39 97.51,100.75 93.09,100.13 99.58,95.97 100.73,92.08 99.58,91.40 96.47,90.78 101.40,87.14 101.92,83.92 100.36,83.25 102.18,81.17 102.70,77.79" fill="#0a0a0a" stroke="#0a0a0a" stroke-width="0.2"/>
</g>
<path d="M47.84,71.51 A7.25,7.25 0 0 1 54.12,60.65 L121.48,60.65 A7.25,7.25 0 0 1 127.76,71.51 L94.09,130.15 A7.25,7.25 0 0 1 81.51,130.15 Z" fill="none" stroke="#111" stroke-width="1.5"/>
<text x="87.6" y="68.0" font-family="Liberation Sans, Arial, sans-serif" font-size="4.1" font-weight="bold" fill="#111" stroke="#111" stroke-width="0.18" text-anchor="middle" textLength="73" lengthAdjust="spacingAndGlyphs">U. S. DEPARTMENT OF THE INTERIOR</text>
<text x="87.8" y="72.6" font-family="Liberation Sans, Arial, sans-serif" font-size="2.7" font-weight="bold" fill="#333" text-anchor="middle" textLength="60" lengthAdjust="spacingAndGlyphs">BUREAU OF LAND MANAGEMENT</text>
</g>
<g font-family="Liberation Sans, Arial, Helvetica, sans-serif" style="font-kerning:none">
<text x="508.8" y="60.60" font-size="6.4" fill="#222" word-spacing="0.024">To improve customer service, the Bureau of Land Management (BLM) is asking</text>
<text x="508.8" y="69.24" font-size="6.4" fill="#222" word-spacing="0.809">visitors to answer questions about their experience at BLM sites. The survey</text>
<text x="508.8" y="77.88" font-size="6.4" fill="#222" word-spacing="2.203">should take about 8 minutes to complete. Your responses are voluntary,</text>
<text x="508.8" y="86.52" font-size="6.4" fill="#222" word-spacing="0.577">anonymous and confidential-your completed survey is sent to an independent</text>
<text x="508.8" y="95.16" font-size="6.4" fill="#222" word-spacing="0.025">research university that provides only a summary (your responses with those of</text>
<text x="508.8" y="103.80" font-size="6.4" fill="#222">others) to the government.</text>
<text x="56.50" y="181.60" font-size="11.35" font-weight="normal" fill="#0c0c0c" xml:space="preserve"><tspan font-weight="bold">Visitor Information.</tspan> Please rate how well the BLM provides</text>
<text x="84.40" y="195.70" font-size="11.35" font-weight="normal" fill="#0c0c0c" xml:space="preserve">visitor information at this site/area</text>
<text x="568.40" y="177.40" font-size="7.4" font-weight="bold" fill="#0c0c0c" text-anchor="middle">Very</text>
<text x="568.40" y="187.40" font-size="7.4" font-weight="bold" fill="#0c0c0c" text-anchor="middle">Good</text>
<text x="598.58" y="179.80" font-size="7.4" font-weight="bold" fill="#0c0c0c" text-anchor="middle">Good</text>
<text x="628.76" y="179.80" font-size="7.4" font-weight="bold" fill="#0c0c0c" text-anchor="middle">Average</text>
<text x="658.94" y="179.80" font-size="7.4" font-weight="bold" fill="#0c0c0c" text-anchor="middle">Poor</text>
<text x="689.12" y="177.40" font-size="7.4" font-weight="bold" fill="#0c0c0c" text-anchor="middle">Very</text>
<text x="689.12" y="187.40" font-size="7.4" font-weight="bold" fill="#0c0c0c" text-anchor="middle">Poor</text>
<text x="719.30" y="177.40" font-size="7.4" font-weight="bold" fill="#0c0c0c" text-anchor="middle">Didn&#39;t</text>
<text x="719.30" y="187.40" font-size="7.4" font-weight="bold" fill="#0c0c0c" text-anchor="middle">Observe</text>
<text x="48.60" y="215.04" font-size="10.19" font-weight="normal" fill="#0c0c0c" xml:space="preserve">Providing useful maps and brochures</text>
<text x="48.60" y="226.68" font-size="10.19" font-weight="normal" fill="#0c0c0c" xml:space="preserve">Providing useful information on the Internet</text>
<text x="48.60" y="238.31" font-size="10.19" font-weight="normal" fill="#0c0c0c" xml:space="preserve">Ensuring public awareness of rules and regulations</text>
<text x="48.60" y="249.95" font-size="10.19" font-weight="normal" fill="#0c0c0c" xml:space="preserve">Providing adequate signs on-site for direction and orientation</text>
<text x="48.60" y="261.58" font-size="10.19" font-weight="normal" fill="#0c0c0c" xml:space="preserve"><tspan font-weight="bold" font-style="italic" font-size="10" dx="0.5">Everything considered</tspan>, rate the quality of BLM visitor information about this site/area</text>
<text x="56.50" y="280.30" font-size="11.35" font-weight="normal" fill="#0c0c0c" xml:space="preserve"><tspan font-weight="bold">Developed Facilities.</tspan> Please rate how well the BLM maintains the</text>
<text x="84.40" y="295.30" font-size="11.35" font-weight="normal" fill="#0c0c0c" xml:space="preserve">condition of the physical facilities at this site/area</text>
<text x="568.40" y="282.40" font-size="7.4" font-weight="bold" fill="#0c0c0c" text-anchor="middle">Very</text>
<text x="568.40" y="292.40" font-size="7.4" font-weight="bold" fill="#0c0c0c" text-anchor="middle">Good</text>
<text x="598.58" y="284.80" font-size="7.4" font-weight="bold" fill="#0c0c0c" text-anchor="middle">Good</text>
<text x="628.76" y="284.80" font-size="7.4" font-weight="bold" fill="#0c0c0c" text-anchor="middle">Average</text>
<text x="658.94" y="284.80" font-size="7.4" font-weight="bold" fill="#0c0c0c" text-anchor="middle">Poor</text>
<text x="689.12" y="282.40" font-size="7.4" font-weight="bold" fill="#0c0c0c" text-anchor="middle">Very</text>
<text x="689.12" y="292.40" font-size="7.4" font-weight="bold" fill="#0c0c0c" text-anchor="middle">Poor</text>
<text x="719.30" y="282.40" font-size="7.4" font-weight="bold" fill="#0c0c0c" text-anchor="middle">Didn&#39;t</text>
<text x="719.30" y="292.40" font-size="7.4" font-weight="bold" fill="#0c0c0c" text-anchor="middle">Observe</text>
<text x="48.60" y="319.76" font-size="10.19" font-weight="normal" fill="#0c0c0c" xml:space="preserve">Condition of roads for motorized vehicles</text>
<text x="48.60" y="331.40" font-size="10.19" font-weight="normal" fill="#0c0c0c" xml:space="preserve">Condition of trails for non-motorized use (hiking, biking, horses, etc.)</text>
<text x="48.60" y="343.04" font-size="10.19" font-weight="normal" fill="#0c0c0c" xml:space="preserve">Cleanliness of site (controlling garbage, litter)</text>
<text x="48.60" y="354.67" font-size="10.19" font-weight="normal" fill="#0c0c0c" xml:space="preserve">Cleanliness of restrooms and other physical facilities</text>
<text x="48.60" y="366.31" font-size="10.19" font-weight="normal" fill="#0c0c0c" xml:space="preserve"><tspan font-weight="bold" font-style="italic" font-size="10" dx="0.5">Everything considered,</tspan> rate the overall condition of developed facilities at this site/area</text>
<text x="56.50" y="385.10" font-size="11.35" font-weight="normal" fill="#0c0c0c" xml:space="preserve"><tspan font-weight="bold">Recreation Use Management.</tspan> Please rate how well the BLM manages</text>
<text x="84.40" y="400.20" font-size="11.35" font-weight="normal" fill="#0c0c0c" xml:space="preserve">recreation use at this site/area</text>
<text x="568.40" y="386.95" font-size="7.4" font-weight="bold" fill="#0c0c0c" text-anchor="middle">Very</text>
<text x="568.40" y="396.95" font-size="7.4" font-weight="bold" fill="#0c0c0c" text-anchor="middle">Good</text>
<text x="598.58" y="389.35" font-size="7.4" font-weight="bold" fill="#0c0c0c" text-anchor="middle">Good</text>
<text x="628.76" y="389.35" font-size="7.4" font-weight="bold" fill="#0c0c0c" text-anchor="middle">Average</text>
<text x="658.94" y="389.35" font-size="7.4" font-weight="bold" fill="#0c0c0c" text-anchor="middle">Poor</text>
<text x="689.12" y="386.95" font-size="7.4" font-weight="bold" fill="#0c0c0c" text-anchor="middle">Very</text>
<text x="689.12" y="396.95" font-size="7.4" font-weight="bold" fill="#0c0c0c" text-anchor="middle">Poor</text>
<text x="719.30" y="386.95" font-size="7.4" font-weight="bold" fill="#0c0c0c" text-anchor="middle">Didn&#39;t</text>
<text x="719.30" y="396.95" font-size="7.4" font-weight="bold" fill="#0c0c0c" text-anchor="middle">Observe</text>
<text x="48.60" y="424.49" font-size="10.19" font-weight="normal" fill="#0c0c0c" xml:space="preserve">Managing the appropriate use of vehicles (cars, trucks, motorcycles, motor homes, dune buggies, OHVs, etc.)</text>
<text x="48.60" y="436.12" font-size="10.19" font-weight="normal" fill="#0c0c0c" xml:space="preserve">Keeping noise at appropriate levels</text>
<text x="48.60" y="447.76" font-size="10.19" font-weight="normal" fill="#0c0c0c" xml:space="preserve">Managing the number of people</text>
<text x="48.60" y="459.40" font-size="10.19" font-weight="normal" fill="#0c0c0c" xml:space="preserve">Providing a sufficient law enforcement presence to prevent crime</text>
<text x="48.60" y="471.03" font-size="10.19" font-weight="normal" fill="#0c0c0c" xml:space="preserve"><tspan font-weight="bold" font-style="italic" font-size="10" dx="0.5">Everything considered,</tspan> rate the visitor and recreation management at this site/area</text>
<text x="56.50" y="490.00" font-size="11.35" font-weight="normal" fill="#0c0c0c" xml:space="preserve"><tspan font-weight="bold">Resource Management.</tspan> Please rate the extent to which BLM protects the natural</text>
<text x="84.40" y="505.20" font-size="11.35" font-weight="normal" fill="#0c0c0c" xml:space="preserve">and cultural resources from recreational use at this site/area</text>
<text x="568.40" y="491.67" font-size="7.4" font-weight="bold" fill="#0c0c0c" text-anchor="middle">Very</text>
<text x="568.40" y="501.67" font-size="7.4" font-weight="bold" fill="#0c0c0c" text-anchor="middle">Good</text>
<text x="598.58" y="494.07" font-size="7.4" font-weight="bold" fill="#0c0c0c" text-anchor="middle">Good</text>
<text x="628.76" y="494.07" font-size="7.4" font-weight="bold" fill="#0c0c0c" text-anchor="middle">Average</text>
<text x="658.94" y="494.07" font-size="7.4" font-weight="bold" fill="#0c0c0c" text-anchor="middle">Poor</text>
<text x="689.12" y="491.67" font-size="7.4" font-weight="bold" fill="#0c0c0c" text-anchor="middle">Very</text>
<text x="689.12" y="501.67" font-size="7.4" font-weight="bold" fill="#0c0c0c" text-anchor="middle">Poor</text>
<text x="719.30" y="491.67" font-size="7.4" font-weight="bold" fill="#0c0c0c" text-anchor="middle">Didn&#39;t</text>
<text x="719.30" y="501.67" font-size="7.4" font-weight="bold" fill="#0c0c0c" text-anchor="middle">Observe</text>
<text x="48.60" y="529.21" font-size="10.19" font-weight="normal" fill="#0c0c0c" xml:space="preserve">Adequately protecting the natural resources (native plants, wildlife habitat, landscapes, etc.)</text>
<text x="48.60" y="540.85" font-size="10.19" font-weight="normal" fill="#0c0c0c" xml:space="preserve">Adequately protecting the cultural resources (historic structures, archeological sites, rock art, etc.)</text>
<text x="48.60" y="552.48" font-size="10.19" font-weight="normal" fill="#0c0c0c" xml:space="preserve">Ensuring that visitor activities do not interfere with resource protection</text>
<text x="48.60" y="564.12" font-size="10.19" font-weight="normal" fill="#0c0c0c" xml:space="preserve"><tspan font-weight="bold" font-style="italic" font-size="10" dx="0.5">Everything considered,</tspan> rate the extent to which BLM protects the natural and cultural resources at this site/area</text>
<text x="56.50" y="594.60" font-size="11.35" font-weight="normal" fill="#0c0c0c" xml:space="preserve"><tspan font-weight="bold">BLM Staff and Service.</tspan></text>
<text x="568.40" y="587.10" font-size="7.4" font-weight="bold" fill="#0c0c0c" text-anchor="middle">Yes</text>
<text x="598.58" y="587.10" font-size="7.4" font-weight="bold" fill="#0c0c0c" text-anchor="middle">No</text>
<text x="48.60" y="622.30" font-size="10.19" font-weight="normal" fill="#0c0c0c" xml:space="preserve">Did you encounter or speak with any BLM staff or volunteers while visiting this site/area?</text>
<text x="614.20" y="620.95" font-size="9.97" font-weight="bold" fill="#ff48ae" xml:space="preserve">If No, skip this section</text>
<text x="48.60" y="651.90" font-size="10.19" font-weight="normal" fill="#0c0c0c" xml:space="preserve">If Yes, please rate the performance of BLM staff or volunteers while visiting this site/area</text>
<text x="568.40" y="642.90" font-size="7.4" font-weight="bold" fill="#0c0c0c" text-anchor="middle">Very</text>
<text x="568.40" y="652.90" font-size="7.4" font-weight="bold" fill="#0c0c0c" text-anchor="middle">Good</text>
<text x="598.58" y="645.30" font-size="7.4" font-weight="bold" fill="#0c0c0c" text-anchor="middle">Good</text>
<text x="628.76" y="645.30" font-size="7.4" font-weight="bold" fill="#0c0c0c" text-anchor="middle">Average</text>
<text x="658.94" y="645.30" font-size="7.4" font-weight="bold" fill="#0c0c0c" text-anchor="middle">Poor</text>
<text x="689.12" y="642.90" font-size="7.4" font-weight="bold" fill="#0c0c0c" text-anchor="middle">Very</text>
<text x="689.12" y="652.90" font-size="7.4" font-weight="bold" fill="#0c0c0c" text-anchor="middle">Poor</text>
<text x="719.30" y="642.90" font-size="7.4" font-weight="bold" fill="#0c0c0c" text-anchor="middle">Didn&#39;t</text>
<text x="719.30" y="652.90" font-size="7.4" font-weight="bold" fill="#0c0c0c" text-anchor="middle">Observe</text>
<text x="48.60" y="680.48" font-size="10.19" font-weight="normal" fill="#0c0c0c" xml:space="preserve">Staff treated me courteously</text>
<text x="48.60" y="692.12" font-size="10.19" font-weight="normal" fill="#0c0c0c" xml:space="preserve">Staff demonstrated knowledge about recreational opportunities in the area</text>
<text x="48.60" y="703.75" font-size="10.19" font-weight="normal" fill="#0c0c0c" xml:space="preserve">Staff demonstrated knowledge about natural and cultural resources in the area</text>
<text x="48.60" y="715.39" font-size="10.19" font-weight="normal" fill="#0c0c0c" xml:space="preserve"><tspan font-weight="bold" font-style="italic" font-size="10" dx="0.5">Everything considered,</tspan> rate the performance of BLM staff in this site/area</text>
<text x="56.50" y="752.00" font-size="11.35" font-weight="normal" fill="#0c0c0c" xml:space="preserve"><tspan font-weight="bold">Programs.</tspan>  (Interpretive walk, tour, exhibit, presentation, etc.)</text>
<text x="568.40" y="751.30" font-size="7.4" font-weight="bold" fill="#0c0c0c" text-anchor="middle">Yes</text>
<text x="598.58" y="749.90" font-size="7.4" font-weight="bold" fill="#0c0c0c" text-anchor="middle">No</text>
<text x="48.60" y="785.20" font-size="10.19" font-weight="normal" fill="#0c0c0c" xml:space="preserve">Did you participate in a program either led by a BLM staff member/volunteer or self-guided at this site/area?</text>
<text x="614.20" y="783.85" font-size="9.97" font-weight="bold" fill="#ff48ae" xml:space="preserve">If No, skip this section</text>
<text x="568.40" y="800.10" font-size="7.4" font-weight="bold" fill="#0c0c0c" text-anchor="middle">Very</text>
<text x="568.40" y="810.10" font-size="7.4" font-weight="bold" fill="#0c0c0c" text-anchor="middle">Good</text>
<text x="598.58" y="802.50" font-size="7.4" font-weight="bold" fill="#0c0c0c" text-anchor="middle">Good</text>
<text x="628.76" y="802.50" font-size="7.4" font-weight="bold" fill="#0c0c0c" text-anchor="middle">Average</text>
<text x="658.94" y="802.50" font-size="7.4" font-weight="bold" fill="#0c0c0c" text-anchor="middle">Poor</text>
<text x="689.12" y="800.10" font-size="7.4" font-weight="bold" fill="#0c0c0c" text-anchor="middle">Very</text>
<text x="689.12" y="810.10" font-size="7.4" font-weight="bold" fill="#0c0c0c" text-anchor="middle">Poor</text>
<text x="48.60" y="831.75" font-size="10.19" font-weight="normal" fill="#0c0c0c" xml:space="preserve">If Yes, please rate the quality of the program attended</text>
<text x="56.50" y="856.00" font-size="11.35" font-weight="normal" fill="#0c0c0c" xml:space="preserve"><tspan font-weight="bold">Commercial Recreation Operations</tspan>  (Outfitter, guide, concessions/vendors, etc.)</text>
<text x="568.40" y="861.70" font-size="7.4" font-weight="bold" fill="#0c0c0c" text-anchor="middle">Yes</text>
<text x="598.58" y="860.30" font-size="7.4" font-weight="bold" fill="#0c0c0c" text-anchor="middle">No</text>
<text x="48.60" y="889.93" font-size="10.19" font-weight="normal" fill="#0c0c0c" xml:space="preserve">During this visit, did you utilize any commercial recreation services at this site/area?</text>
<text x="614.20" y="888.58" font-size="9.97" font-weight="bold" fill="#ff48ae" xml:space="preserve">If No, skip this section</text>
<text x="48.60" y="919.02" font-size="10.19" font-weight="normal" fill="#0c0c0c" xml:space="preserve">If Yes, please list up to three services you used on this trip and rate the quality of those services</text>
<text x="568.40" y="910.40" font-size="7.4" font-weight="bold" fill="#0c0c0c" text-anchor="middle">Very</text>
<text x="568.40" y="920.40" font-size="7.4" font-weight="bold" fill="#0c0c0c" text-anchor="middle">Good</text>
<text x="598.58" y="912.80" font-size="7.4" font-weight="bold" fill="#0c0c0c" text-anchor="middle">Good</text>
<text x="628.76" y="912.80" font-size="7.4" font-weight="bold" fill="#0c0c0c" text-anchor="middle">Average</text>
<text x="658.94" y="912.80" font-size="7.4" font-weight="bold" fill="#0c0c0c" text-anchor="middle">Poor</text>
<text x="689.12" y="910.40" font-size="7.4" font-weight="bold" fill="#0c0c0c" text-anchor="middle">Very</text>
<text x="689.12" y="920.40" font-size="7.4" font-weight="bold" fill="#0c0c0c" text-anchor="middle">Poor</text>
<text x="56.30" y="948.11" font-size="10.19" font-weight="normal" fill="#0c0c0c" xml:space="preserve">1.</text>
<text x="56.30" y="971.38" font-size="10.19" font-weight="normal" fill="#0c0c0c" xml:space="preserve">2.</text>
<text x="56.30" y="994.65" font-size="10.19" font-weight="normal" fill="#0c0c0c" xml:space="preserve">3.</text>
<text x="167.40" y="66.40" font-size="17.5" font-weight="bold" fill="#0c0c0c" xml:space="preserve">{BLM Unit}</text>
<text x="139.40" y="132.80" font-size="15.05" font-weight="bold" fill="#0c0c0c" xml:space="preserve">Bureau of Land Management Visitor Survey</text>
<text x="48.60" y="159.50" font-size="12.45" font-weight="bold" fill="#0c0c0c" xml:space="preserve">PLEASE USE BLUE OR BLACK INK or PENCIL</text>
<text x="403.20" y="156.90" font-size="10.0" font-weight="normal" fill="#0c0c0c" xml:space="preserve">Correct mark</text>
<text x="587.30" y="156.90" font-size="10.1" font-weight="normal" fill="#0c0c0c" xml:space="preserve">Fill in the oval completely</text>
<text x="508.80" y="124.70" font-size="6.3" font-weight="normal" fill="#0c0c0c" xml:space="preserve">OMB Control # 1040-0001</text>
<text x="697.00" y="127.60" font-size="11.0" font-weight="normal" fill="#0c0c0c" xml:space="preserve">{acode}</text>
</g>
<rect x="56.5" y="183.45" width="103.80" height="1.3" fill="#0c0c0c"/>
<rect x="56.5" y="281.45" width="112.23" height="1.3" fill="#0c0c0c"/>
<rect x="56.5" y="386.45" width="158.23" height="1.3" fill="#0c0c0c"/>
<rect x="56.5" y="491.45" width="127.34" height="1.3" fill="#0c0c0c"/>
<rect x="56.5" y="596.45" width="122.92" height="1.3" fill="#0c0c0c"/>
<rect x="56.5" y="753.45" width="56.13" height="1.3" fill="#0c0c0c"/>
<rect x="56.5" y="857.45" width="189.77" height="1.3" fill="#0c0c0c"/>
</svg>
</div>
</body></html>
